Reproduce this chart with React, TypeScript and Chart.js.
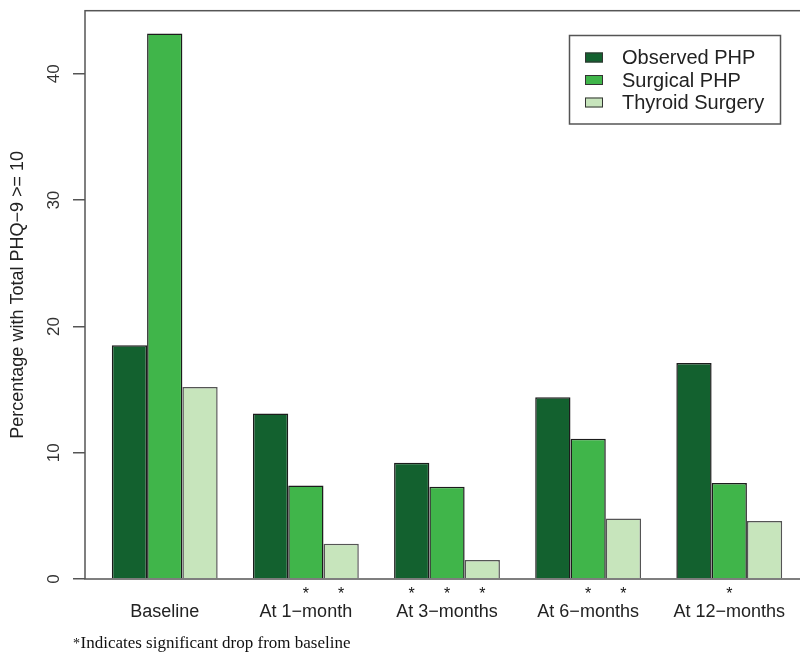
import React, { useEffect, useRef } from 'react';
import { Chart, registerables } from 'chart.js';

Chart.register(...registerables);

// ---- data ----
const categories = ['Baseline', 'At 1−month', 'At 3−months', 'At 6−months', 'At 12−months'];
const seriesNames = ['Observed PHP', 'Surgical PHP', 'Thyroid Surgery'];
const observedPHP = [18.5, 13.1, 9.2, 14.4, 17.1];
const surgicalPHP = [43.2, 7.4, 7.3, 11.1, 7.6];
const thyroidSurgery = [15.2, 2.8, 1.5, 4.8, 4.6];
const observedSig = [false, false, true, false, false];
const surgicalSig = [false, true, true, true, true];
const thyroidSig = [false, true, true, true, false];
const yTicks = [0, 10, 20, 30, 40];
const yAxisTitle = 'Percentage with Total PHQ−9 >= 10';
const footnoteText = 'Indicates significant drop from baseline';

// ---- styles ----
const COLORS = ['#13612F', '#40B54A', '#C7E5BC'];
const BORDERS = ['#1c1c1c', '#1c1c1c', '#555'];
const SANS = '"Liberation Sans", Arial, Helvetica, sans-serif';
const SERIF = '"Liberation Serif", "Times New Roman", serif';

// R barplot layout: each group = 1 gap unit + 3 bar units
const groupCenter = (i: number) => 2.5 + 4 * i;
const X_MIN = 0.24;
const X_MAX = 20.76;

const decorations = {
  id: 'decorations',
  afterDraw(chart: any) {
    const { ctx, chartArea, scales } = chart;
    ctx.save();

    // plot box
    ctx.strokeStyle = '#555';
    ctx.lineWidth = 1.5;
    ctx.strokeRect(chartArea.left, chartArea.top, chartArea.right - chartArea.left, chartArea.bottom - chartArea.top);

    // rotated y tick labels
    const ys = scales.y;
    ctx.fillStyle = '#333';
    ctx.font = `17px ${SANS}`;
    ctx.textAlign = 'center';
    ctx.textBaseline = 'middle';
    ys.ticks.forEach((t: any) => {
      const py = ys.getPixelForValue(t.value);
      ctx.save();
      ctx.translate(54, py);
      ctx.rotate(-Math.PI / 2);
      ctx.fillText(String(t.value), 0, 0);
      ctx.restore();
    });

    // significance asterisks
    const sigs = [observedSig, surgicalSig, thyroidSig];
    ctx.fillStyle = '#111';
    ctx.font = `16px ${SANS}`;
    ctx.textAlign = 'center';
    ctx.textBaseline = 'alphabetic';
    sigs.forEach((arr, d) => {
      const meta = chart.getDatasetMeta(d);
      arr.forEach((flag, j) => {
        if (flag && meta.data[j]) ctx.fillText('*', meta.data[j].x, chartArea.bottom + 20);
      });
    });

    // legend
    ctx.strokeStyle = '#555';
    ctx.lineWidth = 1.5;
    ctx.strokeRect(569.5, 35.5, 211, 88.5);
    chart.data.datasets.forEach((ds: any, i: number) => {
      const rowY = 57.5 + 22.5 * i;
      ctx.fillStyle = ds.backgroundColor;
      ctx.fillRect(585, rowY - 5, 18, 10);
      ctx.strokeStyle = '#333';
      ctx.lineWidth = 1;
      ctx.strokeRect(585.5, rowY - 4.5, 17, 9);
      ctx.fillStyle = '#222';
      ctx.font = `20px ${SANS}`;
      ctx.textAlign = 'left';
      ctx.textBaseline = 'middle';
      ctx.fillText(ds.label, 622, rowY + 1);
    });

    // footnote
    ctx.fillStyle = '#111';
    ctx.textAlign = 'left';
    ctx.textBaseline = 'alphabetic';
    ctx.font = `14px ${SERIF}`;
    ctx.fillText('*', 73, 648);
    ctx.font = `17px ${SERIF}`;
    ctx.fillText(footnoteText, 80.5, 647.5);

    ctx.restore();
  },
};

export default function App() {
  const ref = useRef<HTMLCanvasElement | null>(null);

  useEffect(() => {
    if (!ref.current) return;
    const series = [observedPHP, surgicalPHP, thyroidSurgery];
    const chart = new Chart(ref.current, {
      type: 'bar',
      data: {
        datasets: series.map((vals, d) => ({
          label: seriesNames[d],
          data: vals.map((v, i) => ({ x: groupCenter(i), y: v })),
          backgroundColor: COLORS[d],
          borderColor: BORDERS[d],
          borderWidth: 1.5,
          categoryPercentage: 0.75,
          barPercentage: 1.0,
        })),
      },
      options: {
        responsive: false,
        animation: false,
        devicePixelRatio: 1,
        layout: { padding: { top: 10.7, right: 11, bottom: 0, left: 0 } },
        plugins: { legend: { display: false }, tooltip: { enabled: false } },
        events: [],
        scales: {
          x: {
            type: 'linear',
            bounds: 'data',
            offset: false,
            min: X_MIN,
            max: X_MAX,
            grid: { display: false, drawTicks: false, offset: false },
            border: { display: false },
            afterBuildTicks: (scale: any) => {
              scale.ticks = categories.map((_, i) => ({ value: groupCenter(i) }));
            },
            afterFit: (scale: any) => {
              scale.height = 82;
            },
            ticks: {
              autoSkip: false,
              maxRotation: 0,
              minRotation: 0,
              padding: 22,
              color: '#222',
              font: { family: SANS, size: 18 },
              callback: (_v: any, index: number) => categories[index],
            },
          },
          y: {
            type: 'linear',
            bounds: 'data',
            min: 0,
            max: 45,
            afterBuildTicks: (scale: any) => {
              scale.ticks = yTicks.map((v) => ({ value: v }));
            },
            afterFit: (scale: any) => {
              scale.width = 85;
            },
            grid: {
              display: true,
              drawOnChartArea: false,
              drawTicks: true,
              tickLength: 12,
              color: '#555',
              lineWidth: 1.5,
            },
            border: { display: false },
            ticks: { display: false },
            title: {
              display: true,
              text: yAxisTitle,
              color: '#222',
              font: { family: SANS, size: 18 },
              padding: { top: 7.5, bottom: 0 },
            },
          },
        },
      },
      plugins: [decorations],
    } as any);
    return () => chart.destroy();
  }, []);

  return (
    <div
      style={{
        position: 'absolute',
        left: 0,
        top: 0,
        width: 800,
        height: 661,
        overflow: 'hidden',
        background: '#fff',
      }}
    >
      <canvas ref={ref} width={820} height={661} style={{ display: 'block' }} />
    </div>
  );
}
